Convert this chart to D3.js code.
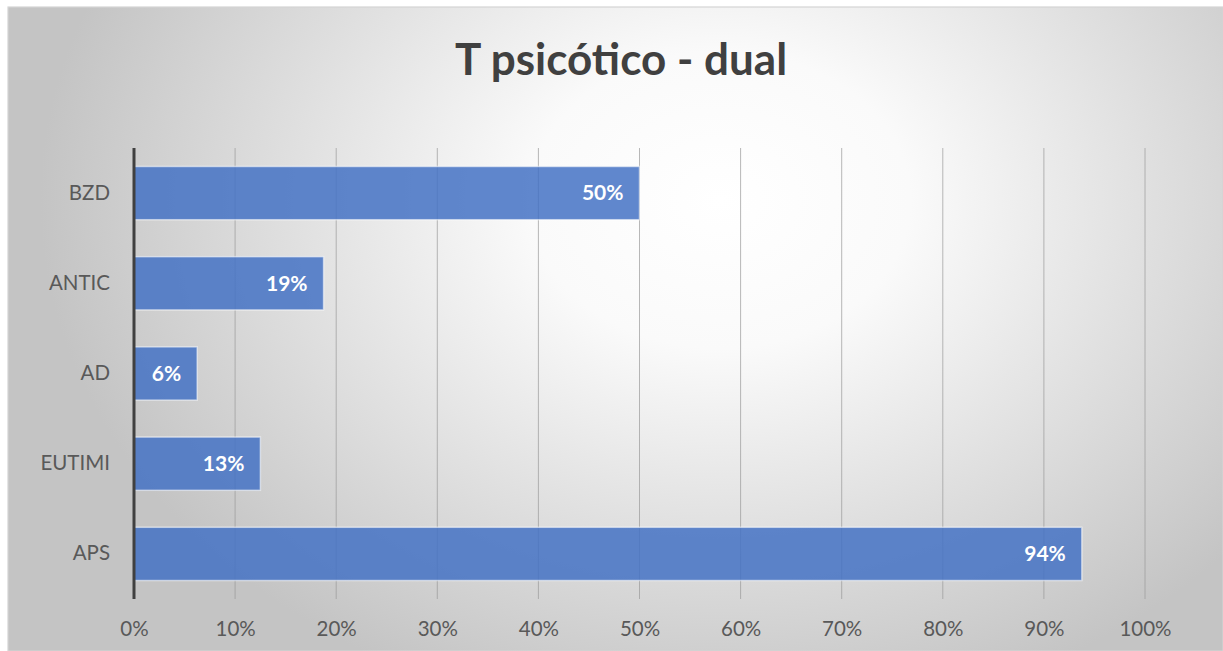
<!DOCTYPE html>
<html>
<head>
<meta charset="utf-8">
<script src="https://cdn.jsdelivr.net/npm/d3@7"></script>
<style>
  html, body { margin: 0; padding: 0; background: #ffffff; }
  svg { display: block; }
</style>
</head>
<body>
<svg id="chart" width="1223" height="651"></svg>
<script>
// Share of patients per drug group
const categories = ["BZD", "ANTIC", "AD", "EUTIMI", "APS"];
const values = [0.50, 0.1875, 0.0625, 0.125, 0.9375];
const tickValues = [0, 0.1, 0.2, 0.3, 0.4, 0.5, 0.6, 0.7, 0.8, 0.9, 1.0];
const title = "T psicótico - dual";

const W = 1223, H = 651;
const font = "Lato, 'Open Sans', sans-serif";
const svg = d3.select("#chart");

// Background panel with a soft radial highlight
const defs = svg.append("defs");
const grad = defs.append("radialGradient")
  .attr("id", "bg")
  .attr("gradientUnits", "userSpaceOnUse")
  .attr("cx", 720).attr("cy", 200).attr("r", 680)
  .attr("gradientTransform", "translate(720,200) scale(1,0.78) translate(-720,-200)");
grad.append("stop").attr("offset", "0%").attr("stop-color", "#ffffff");
grad.append("stop").attr("offset", "28%").attr("stop-color", "#fafafa");
grad.append("stop").attr("offset", "100%").attr("stop-color", "#c4c4c4");

svg.append("rect")
  .attr("x", 8).attr("y", 7)
  .attr("width", W - 8).attr("height", H - 7)
  .attr("fill", "url(#bg)")
  .attr("stroke", "#d4d4d4").attr("stroke-width", 1.2);

const x = d3.scaleLinear().domain([0, 1]).range([134, 1145]);
const y = d3.scaleBand().domain(categories).range([148, 599])
  .paddingInner(0.41).paddingOuter(0.205);

// Title
svg.append("text")
  .attr("x", 621).attr("y", 75)
  .attr("text-anchor", "middle")
  .attr("font-family", font)
  .attr("font-weight", "bold")
  .attr("font-size", 44)
  .attr("fill", "#404040")
  .text(title);

// Vertical gridlines
svg.append("g")
  .selectAll("line")
  .data(tickValues.slice(1))
  .join("line")
  .attr("x1", d => x(d)).attr("x2", d => x(d))
  .attr("y1", 148).attr("y2", 599)
  .attr("stroke", "#9a9a9a")
  .attr("stroke-opacity", 0.7)
  .attr("stroke-width", 1);

// Bars
svg.append("g")
  .selectAll("rect")
  .data(categories)
  .join("rect")
  .attr("x", x(0))
  .attr("y", d => y(d))
  .attr("width", (d, i) => x(values[i]) - x(0))
  .attr("height", y.bandwidth())
  .attr("fill", "#4472C4")
  .attr("fill-opacity", 0.85)
  .attr("stroke", "#ffffff")
  .attr("stroke-opacity", 0.55)
  .attr("stroke-width", 1.5);

// Value labels inside bar ends
const pct = v => Math.round(v * 100) + "%";
svg.append("g")
  .selectAll("text")
  .data(categories)
  .join("text")
  .attr("x", (d, i) => x(values[i]) - 16)
  .attr("y", d => y(d) + y.bandwidth() / 2)
  .attr("dy", "0.35em")
  .attr("text-anchor", "end")
  .attr("font-family", font)
  .attr("font-weight", "bold")
  .attr("font-size", 21)
  .attr("fill", "#ffffff")
  .text((d, i) => pct(values[i]));

// Category axis
const yAxis = svg.append("g")
  .attr("transform", `translate(${x(0)},0)`)
  .call(d3.axisLeft(y).tickSize(0).tickPadding(24));
yAxis.select(".domain").remove();
yAxis.selectAll("text")
  .attr("font-family", font)
  .attr("font-size", 20.5)
  .attr("fill", "#595959");

svg.append("line")
  .attr("x1", x(0)).attr("x2", x(0))
  .attr("y1", 148).attr("y2", 599)
  .attr("stroke", "#404040")
  .attr("stroke-width", 3);

// Percentage axis
const xAxis = svg.append("g")
  .attr("transform", "translate(0,599)")
  .call(d3.axisBottom(x).tickValues(tickValues).tickFormat(d3.format(".0%")).tickSize(0).tickPadding(22));
xAxis.select(".domain").remove();
xAxis.selectAll("text")
  .attr("font-family", font)
  .attr("font-size", 20.5)
  .attr("fill", "#595959");
</script>
</body>
</html>
